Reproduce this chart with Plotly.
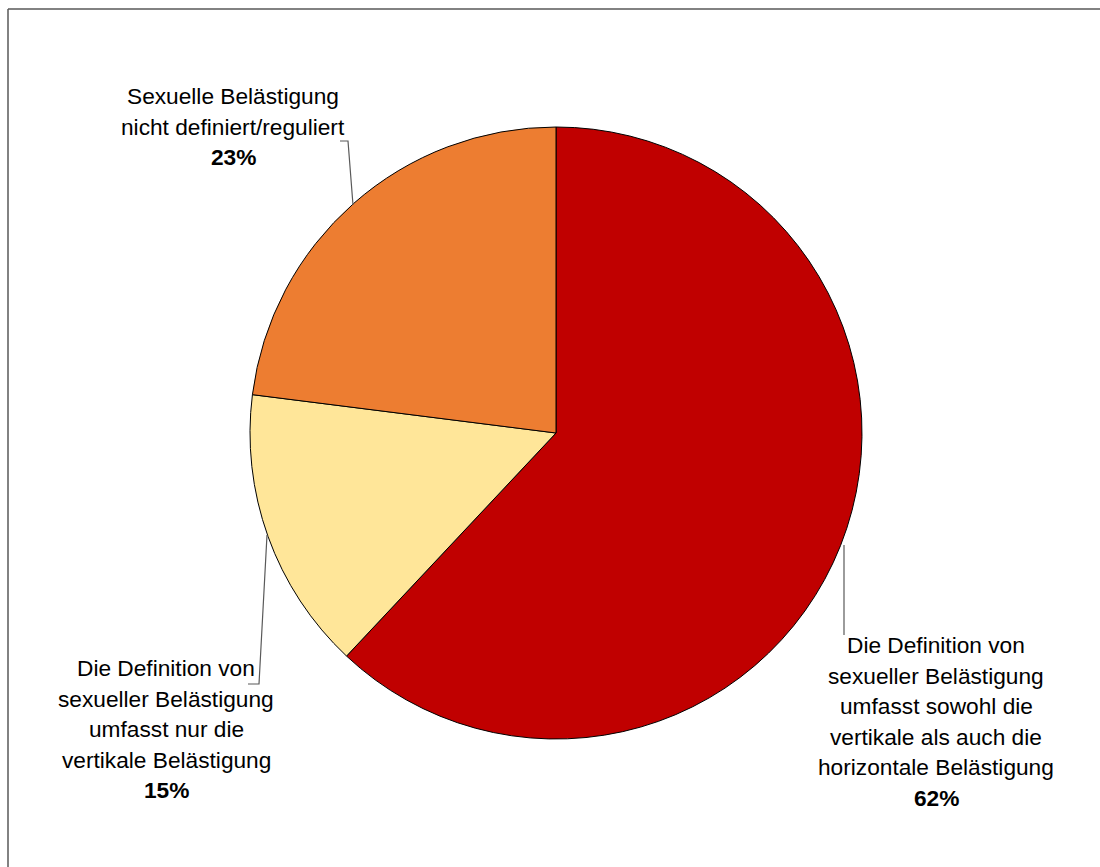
import plotly.graph_objects as go

# Share of definitions of sexual harassment (percent)
categories = [
    "Die Definition von<br>sexueller Belästigung<br>umfasst sowohl die<br>vertikale als auch die<br>horizontale Belästigung",
    "Die Definition von<br>sexueller Belästigung<br>umfasst nur die<br>vertikale Belästigung",
    "Sexuelle Belästigung<br>nicht definiert/reguliert",
]
values = [62, 15, 23]
colors = ["#C00000", "#FFE699", "#ED7D31"]

W, H = 1100, 867
FONT = "Liberation Sans, Arial, sans-serif"
FSIZE = 22.7
PITCH = 30.6


def px(x):
    return x / W


def py(y):
    return 1 - y / H


fig = go.Figure(
    go.Pie(
        labels=[c.replace("<br>", " ") for c in categories],
        values=values,
        sort=False,
        direction="clockwise",
        rotation=0,
        marker=dict(colors=colors, line=dict(color="#000000", width=1)),
        textinfo="none",
        hoverinfo="label+percent",
        showlegend=False,
        domain=dict(x=[px(250), px(862)], y=[py(739), py(127)]),
    )
)

# label placement: centre x and baseline of the first line, in pixels
label_pos = [
    (936, 653),
    (166, 676),
    (233, 104),
]

for cat, val, (x, base) in zip(categories, values, label_pos):
    lines = cat.split("<br>") + [f"<b>{val}%</b>"]
    for i, line in enumerate(lines):
        fig.add_annotation(
            x=px(x), y=py(base + i * PITCH - 0.35 * FSIZE),
            xref="paper", yref="paper",
            xanchor="center", yanchor="middle", showarrow=False,
            text=line,
            font=dict(family=FONT, size=FSIZE, color="#000000"),
        )

# leader lines from labels to the slices
leaders = [
    [(844, 545), (844, 635)],
    [(248, 684), (259, 684), (267, 535)],
    [(340, 141), (348, 141), (353, 205)],
]
for pts in leaders:
    path = "M " + " L ".join(f"{px(a)},{py(b)}" for a, b in pts)
    fig.add_shape(type="path", xref="paper", yref="paper", path=path,
                  line=dict(color="#595959", width=1.2))

# chart frame (top and left edges)
fig.add_shape(type="line", xref="paper", yref="paper",
              x0=px(8), y0=py(9), x1=1.01, y1=py(9),
              line=dict(color="#595959", width=1.5))
fig.add_shape(type="line", xref="paper", yref="paper",
              x0=px(8), y0=py(9), x1=px(8), y1=-0.01,
              line=dict(color="#595959", width=1.5))

fig.update_layout(
    width=W, height=H,
    margin=dict(l=0, r=0, t=0, b=0),
    paper_bgcolor="#FFFFFF",
    plot_bgcolor="#FFFFFF",
    font=dict(family=FONT),
)

fig.write_html("out.html")
